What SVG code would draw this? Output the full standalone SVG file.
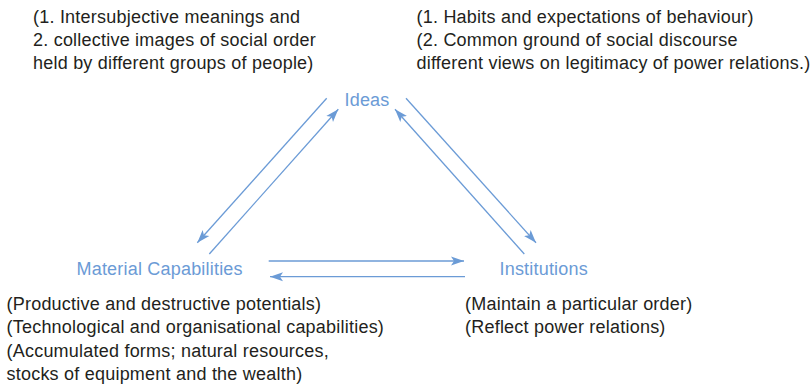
<svg xmlns="http://www.w3.org/2000/svg" width="812" height="387" viewBox="0 0 812 387">
<style>
.node{font-family:"Liberation Sans",Arial,sans-serif;font-size:18px;letter-spacing:0.2px;fill:#6b9bd6}
.note{font-family:"Liberation Sans",Arial,sans-serif;font-size:18px;letter-spacing:0.22px;fill:#231f20}
.conn{stroke:#6b9bd6;stroke-width:1.3;fill:none;marker-end:url(#ah)}
</style>
<defs>
<marker id="ah" markerUnits="userSpaceOnUse" markerWidth="14" markerHeight="10" refX="13" refY="5" orient="auto">
<path d="M0,0.5 L13,5 L0,9.5 L3,5 z" fill="#6b9bd6"/>
</marker>
</defs>
<rect width="812" height="387" fill="#ffffff"/>
<g id="connectors">
<line class="conn" x1="326.7" y1="98.3" x2="197.3" y2="242.7"/>
<line class="conn" x1="209.3" y1="254" x2="338.3" y2="109.3"/>
<line class="conn" x1="524.3" y1="254" x2="395" y2="109.3"/>
<line class="conn" x1="406" y1="98.3" x2="536" y2="242.7"/>
<line class="conn" x1="268.7" y1="261" x2="464" y2="261"/>
<line class="conn" x1="465" y1="276.7" x2="270" y2="276.7"/>
</g>
<g id="ideas">
<text class="node" x="344.5" y="106">Ideas</text>
<text class="note" x="33" y="23">(1. Intersubjective meanings and</text>
<text class="note" x="33" y="46">2. collective images of social order</text>
<text class="note" x="33" y="69">held by different groups of people)</text>
</g>
<g id="ideas-institutions-notes">
<text class="note" x="416.5" y="23">(1. Habits and expectations of behaviour)</text>
<text class="note" x="416.5" y="46">(2. Common ground of social discourse</text>
<text class="note" x="416.5" y="69">different views on legitimacy of power relations.)</text>
</g>
<g id="material-capabilities">
<text class="node" x="76.5" y="275">Material Capabilities</text>
<text class="note" x="6.5" y="310">(Productive and destructive potentials)</text>
<text class="note" x="6.5" y="333.3">(Technological and organisational capabilities)</text>
<text class="note" x="6.5" y="356.6">(Accumulated forms; natural resources,</text>
<text class="note" x="6.5" y="380">stocks of equipment and the wealth)</text>
</g>
<g id="institutions">
<text class="node" x="499.5" y="275">Institutions</text>
<text class="note" x="465" y="310">(Maintain a particular order)</text>
<text class="note" x="465" y="333.3">(Reflect power relations)</text>
</g>
</svg>
